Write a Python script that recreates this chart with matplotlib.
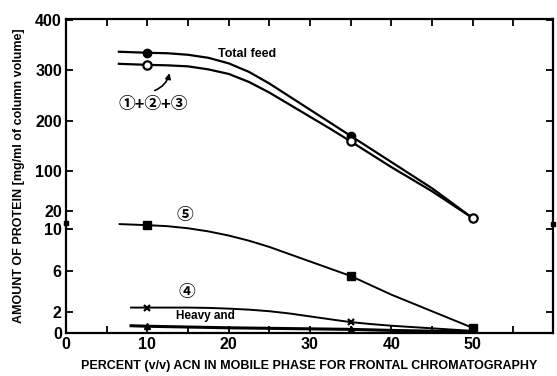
import numpy as np
import matplotlib
matplotlib.use("Agg")
import matplotlib.pyplot as plt

# ==========================
# DATA
# ==========================

# total feed (filled circles)
feed_x = [6.5, 10, 12.5, 15, 17.5, 20, 22.5, 25, 27.5, 30, 32.5, 35, 40, 45, 50]
feed_y = [337, 335, 334, 331, 325, 314, 297, 274, 248, 222, 196, 170, 118, 66, 15]
feed_mx = [10, 35]
feed_my = [335, 170]

# peaks 1+2+3 (open circles)
p123_x = [6.5, 10, 12.5, 15, 17.5, 20, 22.5, 25, 27.5, 30, 32.5, 35, 40, 45, 50]
p123_y = [313, 311, 310, 308, 302, 293, 277, 256, 232, 208, 184, 159, 108, 60, 15]
p123_mx = [10, 35, 50]
p123_my = [311, 159, 15]

# peak 5 (filled squares)
p5_x = [6.6, 10, 12.5, 15, 17.5, 20, 22.5, 25, 27.5, 30, 32.5, 35, 37.5, 40, 42.5, 45, 47.5, 50]
p5_y = [10.5, 10.4, 10.3, 10.1, 9.8, 9.4, 8.9, 8.3, 7.6, 6.9, 6.2, 5.5, 4.6, 3.7, 2.9, 2.1, 1.3, 0.5]
p5_mx = [10, 35, 50]
p5_my = [10.4, 5.5, 0.5]

# peak 4 (crosses)
p4_x = [8, 10, 15, 17.5, 20, 22.5, 25, 27.5, 30, 32.5, 35, 37.5, 40, 45, 50]
p4_y = [2.45, 2.45, 2.45, 2.42, 2.35, 2.25, 2.1, 1.88, 1.6, 1.32, 1.05, 0.86, 0.7, 0.45, 0.2]
p4_mx = [10, 35]
p4_my = [2.45, 1.05]

# heavy and light chains (triangles)
hl_x = [8, 10, 20, 30, 35, 40, 50]
hl_y = [0.7, 0.65, 0.5, 0.4, 0.35, 0.25, 0.1]
hl_mx = [10, 35]
hl_my = [0.65, 0.35]

x_ticks = [0, 5, 10, 15, 20, 25, 30, 35, 40, 45, 50, 55]
x_labels = ["0", "", "10", "", "20", "", "30", "", "40", "", "50", ""]
y_ticks = [0, 2, 6, 10, 20, 100, 200, 300, 400]


# ==========================
# BROKEN Y SCALE
# ==========================

LOW_TOP = 10.5
LOW_K = 10.4
MID_K = (122.0 - LOW_TOP * LOW_K) / (20 - LOW_TOP)
HIGH_K = 0.505


def forward(y):
    y = np.asarray(y, dtype=float)
    return np.where(y <= LOW_TOP, y * LOW_K,
                    np.where(y <= 20, LOW_TOP * LOW_K + (y - LOW_TOP) * MID_K,
                             122.0 + (y - 20) * HIGH_K))


def inverse(u):
    u = np.asarray(u, dtype=float)
    u0 = LOW_TOP * LOW_K
    return np.where(u <= u0, u / LOW_K,
                    np.where(u <= 122.0, LOW_TOP + (u - u0) / MID_K,
                             20 + (u - 122.0) / HIGH_K))


plt.rcParams["font.family"] = ["Liberation Sans", "Noto Sans CJK JP", "DejaVu Sans"]

fig = plt.figure(figsize=(5.57, 3.76), dpi=100)
ax = fig.add_axes([0.1185, 0.1144, 0.8745, 0.835])
ax.set_yscale("function", functions=(forward, inverse))

lw = 1.6
ax.plot(feed_x, feed_y, color="black", lw=lw)
ax.plot(p123_x, p123_y, color="black", lw=lw)
ax.plot(p5_x, p5_y, color="black", lw=1.4)
ax.plot(p4_x, p4_y, color="black", lw=1.4)
ax.plot(hl_x, hl_y, color="black", lw=2.2)

ax.plot(feed_mx, feed_my, "o", color="black", ms=6, zorder=4)
ax.plot(p123_mx, p123_my, "o", mfc="white", mec="black", mew=1.6, ms=6, zorder=5)
ax.plot(p5_mx, p5_my, "s", color="black", ms=6, zorder=4)
ax.plot(p4_mx, p4_my, "x", color="black", ms=5, mew=1.6, zorder=4)
ax.plot(hl_mx, hl_my, "^", color="black", ms=5, zorder=4)

# axis break marks
ax.plot([0, 59.9], [11.6, 10.8], "s", color="black", ms=3.5, clip_on=False, zorder=6)

ax.set_xlim(0, 59.9)
ax.set_ylim(0, 402)
ax.set_xticks(x_ticks)
ax.set_xticklabels(x_labels)
ax.set_yticks(y_ticks)
ax.set_yticklabels([str(v) for v in y_ticks])
ax.minorticks_off()
ax.tick_params(direction="in", length=5, width=1.3, top=True, right=True,
               labelsize=11.5, pad=3)
for lab in ax.get_xticklabels() + ax.get_yticklabels():
    lab.set_fontweight("bold")
for s in ax.spines.values():
    s.set_linewidth(1.6)

ax.set_xlabel("PERCENT (v/v) ACN IN MOBILE PHASE FOR FRONTAL CHROMATOGRAPHY",
              fontsize=9, fontweight="bold", labelpad=6)
ax.set_ylabel("AMOUNT OF PROTEIN [mg/ml of column volume]",
              fontsize=9, fontweight="bold", labelpad=7)

ax.text(22.3, 332, "Total feed", fontsize=9, fontweight="bold", ha="center", va="center")
ax.text(10.7, 232, "①+②+③", fontsize=12, fontweight="bold", ha="center", va="center")
ax.annotate("", xy=(12.8, 300), xytext=(10.6, 258),
            arrowprops=dict(arrowstyle="-|>", color="black", lw=1.2,
                            connectionstyle="arc3,rad=0.3", mutation_scale=8))
ax.text(14.6, 17, "⑤", fontsize=12, fontweight="bold", ha="center", va="center")
ax.text(14.9, 3.9, "④", fontsize=12, fontweight="bold", ha="center", va="center")
ax.text(17.1, 1.6, "Heavy and", fontsize=8.5, fontweight="bold", ha="center", va="center")

fig.savefig("out.png", dpi=100)
